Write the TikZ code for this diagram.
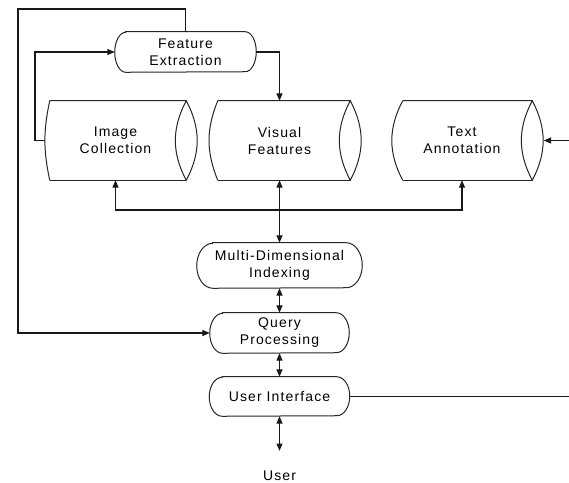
\documentclass[tikz,border=0pt]{standalone}
\usepackage{fontspec}
\setmainfont{Liberation Sans}[LetterSpace=8]
\usetikzlibrary{arrows.meta,calc}
\newcommand{\drawstad}[3]{% name, half height (px), end depth (px)
  \draw[shapeline] ([xshift=#3*0.75pt]#1.north west) -- ([xshift=-#3*0.75pt]#1.north east)
    arc[start angle=90,end angle=-90,x radius=#3*0.75pt,y radius=#2*0.75pt]
    -- ([xshift=#3*0.75pt]#1.south west)
    arc[start angle=270,end angle=90,x radius=#3*0.75pt,y radius=#2*0.75pt] -- cycle;}
\newcommand{\drawcyl}[4]{% name, left inset (px), left bend, lens bend
  \draw[shapeline] ([xshift=#2*0.75pt]#1.north west) -- (#1.north east)
    to[bend right=#4] (#1.south east) to[bend right=#4] (#1.north east);
  \draw[shapeline] ([xshift=#2*0.75pt]#1.south west) -- (#1.south east);
  \draw[shapeline] ([xshift=#2*0.75pt]#1.north west) to[bend right=#3] ([xshift=#2*0.75pt]#1.south west);}
\begin{document}
\begin{tikzpicture}[x=0.75pt,y=0.75pt,
  txt/.style={font=\fontsize{10.5}{12.75}\selectfont, align=center, inner sep=0pt},
  stad/.style={txt, rectangle, draw=none},
  cyl/.style={txt, rectangle, draw=none},
  shapeline/.style={draw=black!85, line width=0.75pt},
  conn/.style={draw=black!90, line width=0.8pt},
  arr/.style={conn, -{Triangle[length=5.5pt,width=4.5pt]}},
  dbl/.style={conn, {Triangle[length=5.5pt,width=4.5pt]}-{Triangle[length=5.5pt,width=4.5pt]}}]
\useasboundingbox (0,0) rectangle (569,-483);

% stadium nodes
\node[stad, minimum width=105.75pt, minimum height=30pt] (fe) at (185.5,-52) {Feature\\Extraction};
\node[stad, minimum width=123.75pt, minimum height=33.75pt] (mdi) at (279.5,-265.5) {Multi-Dimensional\\Indexing};
\node[stad, minimum width=104.25pt, minimum height=30pt] (qp) at (279.5,-333) {Query\\Processing};
\node[stad, minimum width=105pt, minimum height=29.25pt] (ui) at (279.5,-396.5) {User Interface};
\drawstad{fe}{20}{11}
\drawstad{mdi}{22.5}{16}
\drawstad{qp}{20}{13}
\drawstad{ui}{19.5}{13}

% cylinders
\node[cyl, minimum width=105.75pt, minimum height=59.25pt] (ic) at (115.5,-140.5) {Image\\Collection};
\node[cyl, minimum width=105.75pt, minimum height=59.25pt] (vf) at (279.5,-140.5) {Visual\\Features};
\node[cyl, minimum width=105pt, minimum height=59.25pt] (ta) at (462,-140.5) {Text\\Annotation};
\drawcyl{ic}{5}{12}{28}
\drawcyl{vf}{9}{22}{28}
\drawcyl{ta}{11}{28}{28}

\node[txt] (user) at (279.5,-476) {User};

% coordinates
\coordinate (tl) at (18,-9);
\coordinate (kl) at (35,-140.5);
\coordinate (bus) at (279.5,-210);
\coordinate (tin) at (569,-140.5);
\coordinate (uout) at (569,-396.5);

% connectors
\draw[arr] (fe.north) |- (tl) |- (qp.west);
\draw[arr] (ic.west) -- (kl) |- (fe.west);
\draw[arr] (fe.east) -| (vf.north);
\draw[arr] (bus) -| (ic.south);
\draw[arr] (bus) -| (ta.south);
\draw[dbl] (vf.south) -- (mdi.north);
\draw[dbl] (mdi.south) -- (qp.north);
\draw[dbl] (qp.south) -- (ui.north);
\draw[dbl] (ui.south) -- ([yshift=15pt]user.north);
\draw[arr] (tin) -- ([xshift=8.6pt]ta.east);
\draw[conn] (ui.east) -- (uout);
\end{tikzpicture}
\end{document}
